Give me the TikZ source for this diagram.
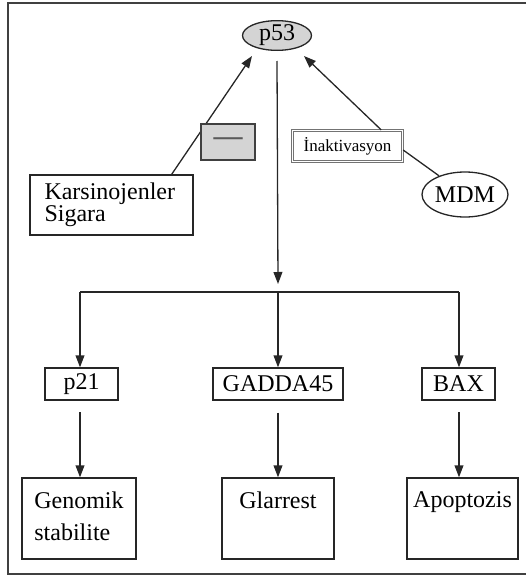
\documentclass[tikz,border=0pt]{standalone}
\usepackage{fontspec}
\setmainfont{Liberation Serif}
\usetikzlibrary{arrows.meta,shapes.geometric}
\begin{document}
\begin{tikzpicture}[x=0.5pt,y=-0.5pt,
  ln/.style={draw=black!85, line width=0.65pt},
  arr/.style={ln, -{Triangle[length=6pt,width=4.4pt]}},
  box/.style={ln, rectangle, inner sep=0pt, font=\fontsize{12}{11}\selectfont},
  oval/.style={ln, ellipse, inner sep=0pt, font=\fontsize{12}{12}\selectfont},
  txt/.style={inner sep=0pt, align=left, font=\fontsize{12}{16}\selectfont}
]
\useasboundingbox (0,0) rectangle (526,578);
% outer frame (cut off at the right)
\draw[line width=0.9pt, draw=black!75] (526,3) -- (8,3) -- (8,574) -- (526,574);

% top nodes
\node[oval, fill=black!17, minimum width=34.5pt, minimum height=11.5pt] (p) at (277,35.5) {p53};
\node[box, minimum width=81.5pt, minimum height=30pt, align=left, text width=67pt, inner xsep=7pt] (k) at (111.5,205) {Karsinojenler\\Sigara};
\node[oval, minimum width=43pt, minimum height=22.5pt] (m) at (465,194.5) {MDM};
\coordinate (t1) at (252,56);
\coordinate (t2) at (304,56);

% connectors into p53
\draw[arr] ([xshift=-11pt]k.north east) -- (t1);
\node[box, fill=black!17, draw=black!75, line width=0.8pt, minimum width=27pt, minimum height=18pt, text=black!65, font=\fontsize{14.5}{14.5}\bfseries] (neg) at (228,142) {—};
\node[box, draw=black!55, double=white, double distance=0.5pt, minimum width=55pt, minimum height=15.5pt, font=\fontsize{8.5}{8.5}\selectfont] (ina) at (347.5,146) {İnaktivasyon};
\draw[arr] ([xshift=-11pt]ina.north east) -- (t2);
\draw[ln] ([yshift=-2pt]ina.east) -- (m);

% stem and branching
\coordinate (hb) at (278,292);
\coordinate (ht) at (278,284);
\draw[arr] (p.south |- 0,61) -- (ht);

\node[box, minimum width=36.5pt, minimum height=16pt] (p21) at (81.5,384) {p21};
\node[box, minimum width=65pt, minimum height=16pt] (g45) at (278,384) {GADDA45};
\node[box, minimum width=36.5pt, minimum height=16pt] (bax) at (458.5,384) {BAX};

\draw[ln] (80,292) coordinate (hl) -- (459,292) coordinate (hr);
\draw[arr] (hl) -- (hl |- p21.north);
\draw[arr] (hb) -- (g45);
\draw[arr] (hr) -- (hr |- bax.north);

% bottom boxes
\node[box, minimum width=57pt, minimum height=40.5pt] (gen) at (79,518.5) {};
\node[box, minimum width=56pt, minimum height=40.5pt] (gl) at (278,518.5) {};
\node[box, minimum width=55.5pt, minimum height=40.5pt] (ap) at (462.5,518.5) {};
\node[txt, anchor=north] (gent) at ([yshift=-7pt]gen.north) {Genomik\\stabilite};
\node[txt, anchor=north] (glt) at ([yshift=-7pt]gl.north) {Glarrest};
\node[txt, anchor=north] (apt) at ([yshift=-7pt]ap.north) {Apoptozis};

\draw[arr] (80,412) coordinate (a1) -- (a1 |- gen.north);
\draw[arr] ([yshift=-6pt]g45.south) -- (gl.north);
\draw[arr] (459,412) coordinate (a3) -- (a3 |- ap.north);
\end{tikzpicture}
\end{document}
